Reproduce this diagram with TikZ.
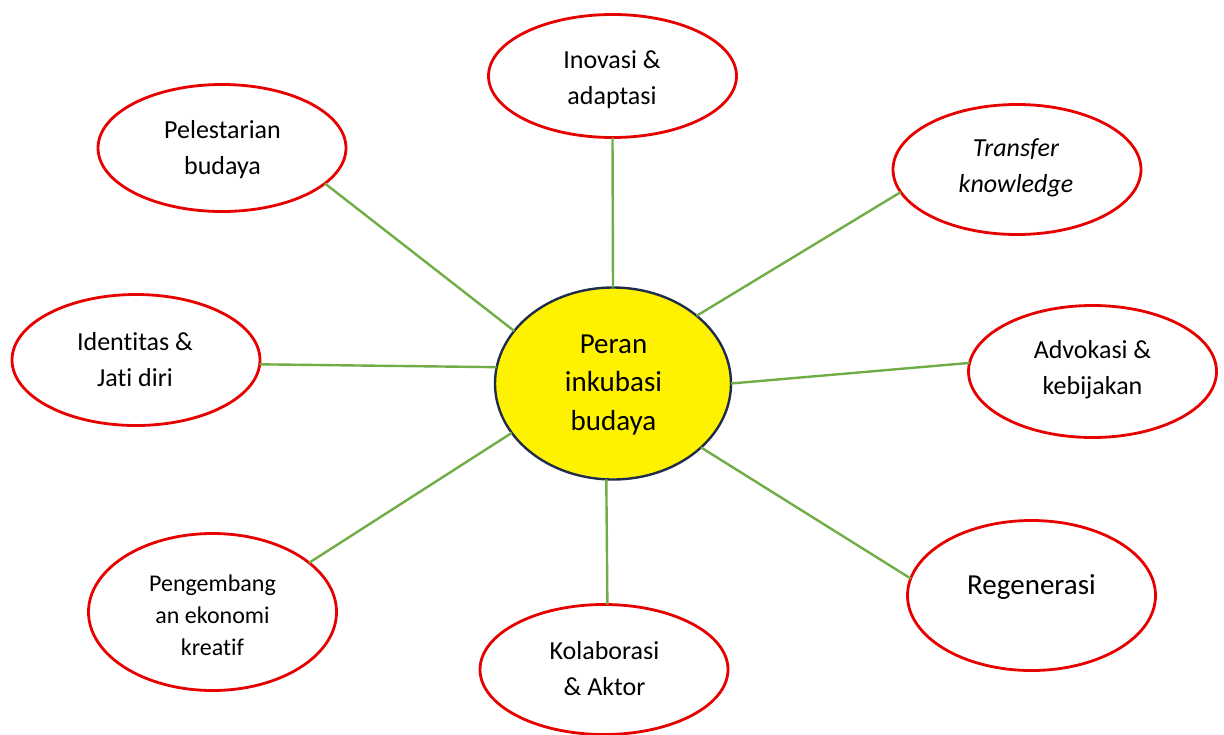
\documentclass[tikz,border=0pt]{standalone}
\usepackage{fontspec}
\setmainfont{Carlito}[Ligatures={NoCommon,NoRequired,NoContextual}]
\usetikzlibrary{shapes.geometric}
\definecolor{linkgreen}{HTML}{70AD47}
\definecolor{ringred}{HTML}{E60000}
\definecolor{hubnavy}{HTML}{1F2C4C}
\begin{document}
\begin{tikzpicture}[x=1pt,y=-1pt,
  outerbox/.style={ellipse, draw=ringred, line width=2.8pt, fill=white,
    minimum width=248pt, inner sep=0pt, outer sep=0pt},
  hubbox/.style={ellipse, draw=hubnavy, line width=2.4pt, fill=yellow,
    minimum width=236pt, minimum height=192pt, inner sep=0pt, outer sep=0pt},
  lbl/.style={align=center, inner sep=0pt, text=black,
    font=\fontsize{26}{36}\selectfont},
  biglbl/.style={align=center, inner sep=0pt, text=black,
    font=\fontsize{29}{38.5}\selectfont},
  smalllbl/.style={align=center, inner sep=0pt, text=black,
    font=\fontsize{24}{32}\selectfont},
  link/.style={draw=linkgreen, line width=2.4pt}]
\useasboundingbox (0,0) rectangle (1224,734);

% outer ellipses
\node[outerbox, minimum height=123pt] (inov)  at (612.5,76)   {};
\node[outerbox, minimum height=127pt] (pel)   at (222,148)    {};
\node[outerbox, minimum height=130pt] (trans) at (1017,169.5) {};
\node[outerbox, minimum height=131pt] (iden)  at (136,360)    {};
\node[outerbox, minimum height=132pt] (adv)   at (1092.5,371.5) {};
\node[outerbox, minimum height=157pt] (peng)  at (212.5,612)  {};
\node[outerbox, minimum height=130pt] (kol)   at (604,669.5)  {};
\node[outerbox, minimum height=150pt] (reg)   at (1031.5,595.5) {};

% central ellipse
\node[hubbox] (hub) at (613,383.5) {};

% connectors
\draw[link] (inov.south) -- (hub.north);
\draw[link] (pel.-19.6)  -- (hub.152);
\draw[link] (trans.191)  -- (hub.39);
\draw[link] (iden.-2.8)  -- (hub.172.1);
\draw[link] (adv.176.1)  -- (hub.0);
\draw[link] (peng.27.9)  -- (hub.206.5);
\draw[link] (kol.87)     -- (hub.266.8);
\draw[link] (reg.172.7)  -- (hub.-36.7);

% labels
\node[lbl] (tinov)  at (612,79.5)    {Inovasi \&\\adaptasi};
\node[lbl] (tpel)   at (222.5,149.5) {Pelestarian\\budaya};
\node[lbl] (ttrans) at (1016,167.5)  {\itshape Transfer\\\itshape knowledge};
\node[lbl] (tiden)  at (135,360)     {Identitas \&\\Jati diri};
\node[lbl] (tadv)   at (1092.5,370)  {Advokasi \&\\kebijakan};
\node[smalllbl] (tpeng) at (212.5,615) {Pengembang\\an ekonomi\\kreatif};
\node[lbl] (tkol)   at (604.5,668.5) {Kolaborasi\\\& Aktor};
\node[biglbl] (treg) at (1031.5,587.5) {Regenerasi};
\node[biglbl] (thub) at (613.5,385)  {Peran\\inkubasi\\budaya};
\end{tikzpicture}
\end{document}
